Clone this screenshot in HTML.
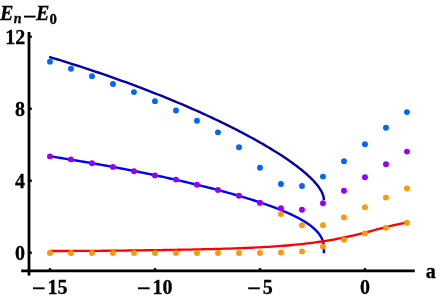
<!DOCTYPE html>
<html><head><meta charset="utf-8"><title>chart</title>
<style>
html,body{margin:0;padding:0;background:#fff;}
body{width:436px;height:298px;overflow:hidden;font-family:"Liberation Serif",serif;}
svg{display:block}
text{font-family:"Liberation Serif",serif;font-weight:bold;fill:#000;stroke:#000;stroke-width:0.3px}
</style></head><body>
<svg width="436" height="298" viewBox="0 0 436 298">
<rect width="436" height="298" fill="#fff"/>
<g stroke="#000" stroke-width="2.8" fill="none">
<path d="M21.2,270.9 H414.8"/>
<path d="M29.0,32 V275.6"/>
</g>
<g stroke="#000" stroke-width="2.5" fill="none">
<path d="M49.95,270.9 V268.15"/>
<path d="M154.95,270.9 V268.15"/>
<path d="M259.95,270.9 V268.15"/>
<path d="M364.95,270.9 V268.15"/>
<path d="M29.0,252.75 H31.75"/>
<path d="M29.0,180.75 H31.75"/>
<path d="M29.0,108.75 H31.75"/>
<path d="M29.0,36.75 H31.75"/>
</g>
<path d="M49.11,56.91 L53.05,58.09 L56.96,59.27 L60.84,60.46 L64.69,61.65 L68.52,62.84 L72.32,64.04 L76.08,65.24 L79.82,66.44 L83.54,67.64 L87.22,68.85 L90.87,70.06 L94.50,71.27 L98.10,72.49 L101.67,73.70 L105.21,74.92 L108.72,76.14 L112.20,77.35 L115.66,78.58 L119.09,79.80 L122.48,81.02 L125.85,82.24 L129.20,83.47 L132.51,84.69 L135.79,85.92 L139.05,87.14 L142.28,88.37 L145.48,89.59 L148.65,90.82 L151.79,92.04 L154.91,93.26 L157.99,94.49 L161.05,95.71 L164.08,96.93 L167.08,98.15 L170.05,99.37 L172.99,100.58 L175.91,101.80 L178.79,103.01 L181.65,104.22 L184.48,105.43 L187.28,106.64 L190.06,107.85 L192.80,109.05 L195.52,110.25 L198.20,111.45 L200.86,112.65 L203.49,113.84 L206.10,115.03 L208.67,116.22 L211.22,117.40 L213.73,118.58 L216.22,119.76 L218.68,120.93 L221.11,122.10 L223.52,123.27 L225.89,124.43 L228.24,125.59 L230.55,126.75 L232.84,127.90 L235.10,129.05 L237.34,130.19 L239.54,131.33 L241.72,132.46 L243.86,133.59 L245.98,134.71 L248.07,135.83 L250.13,136.95 L252.17,138.06 L254.17,139.16 L256.15,140.26 L258.10,141.35 L260.02,142.44 L261.91,143.53 L263.77,144.60 L265.61,145.68 L267.41,146.74 L269.19,147.80 L270.94,148.86 L272.66,149.91 L274.35,150.95 L276.01,151.99 L277.65,153.02 L279.26,154.04 L280.84,155.06 L282.39,156.07 L283.91,157.08 L285.40,158.08 L286.86,159.07 L288.30,160.06 L289.71,161.04 L291.09,162.01 L292.44,162.98 L293.76,163.94 L295.05,164.89 L296.32,165.83 L297.56,166.77 L298.77,167.70 L299.95,168.63 L301.10,169.54 L302.22,170.45 L303.32,171.36 L304.38,172.25 L305.42,173.14 L306.43,174.02 L307.41,174.89 L308.36,175.76 L309.29,176.62 L310.18,177.47 L311.05,178.31 L311.89,179.14 L312.70,179.97 L313.48,180.79 L314.24,181.60 L314.96,182.41 L315.66,183.20 L316.33,183.99 L316.97,184.77 L317.58,185.54 L318.16,186.31 L318.72,187.06 L319.24,187.81 L319.74,188.55 L320.21,189.29 L320.65,190.01 L321.06,190.73 L321.45,191.44 L321.80,192.14 L322.13,192.83 L322.43,193.51 L322.70,194.19 L322.94,194.86 L323.15,195.52 L323.34,196.17 L323.49,196.81 L323.62,197.45 L323.72,198.07 L323.79,198.69 L323.84,199.30 L323.85,199.90" stroke="#0000a6" stroke-width="2.4" fill="none" stroke-linejoin="round"/>
<path d="M49.11,156.21 L53.05,156.81 L56.96,157.41 L60.84,158.02 L64.69,158.63 L68.52,159.24 L72.32,159.85 L76.08,160.47 L79.82,161.09 L83.54,161.71 L87.22,162.34 L90.87,162.97 L94.50,163.60 L98.10,164.23 L101.67,164.86 L105.21,165.50 L108.72,166.14 L112.20,166.78 L115.66,167.42 L119.09,168.06 L122.48,168.71 L125.85,169.35 L129.20,170.00 L132.51,170.65 L135.79,171.30 L139.05,171.95 L142.28,172.60 L145.48,173.25 L148.65,173.90 L151.79,174.55 L154.91,175.21 L157.99,175.86 L161.05,176.51 L164.08,177.17 L167.08,177.82 L170.05,178.48 L172.99,179.13 L175.91,179.79 L178.79,180.44 L181.65,181.09 L184.48,181.75 L187.28,182.40 L190.06,183.06 L192.80,183.71 L195.52,184.36 L198.20,185.01 L200.86,185.67 L203.49,186.32 L206.10,186.97 L208.67,187.62 L211.22,188.27 L213.73,188.92 L216.22,189.57 L218.68,190.22 L221.11,190.86 L223.52,191.51 L225.89,192.16 L228.24,192.80 L230.55,193.45 L232.84,194.09 L235.10,194.74 L237.34,195.38 L239.54,196.02 L241.72,196.66 L243.86,197.30 L245.98,197.94 L248.07,198.58 L250.13,199.22 L252.17,199.86 L254.17,200.50 L256.15,201.13 L258.10,201.77 L260.02,202.41 L261.91,203.04 L263.77,203.68 L265.61,204.31 L267.41,204.95 L269.19,205.58 L270.94,206.21 L272.66,206.85 L274.35,207.48 L276.01,208.11 L277.65,208.75 L279.26,209.38 L280.84,210.01 L282.39,210.64 L283.91,211.28 L285.40,211.91 L286.86,212.54 L288.30,213.18 L289.71,213.81 L291.09,214.45 L292.44,215.08 L293.76,215.72 L295.05,216.36 L296.32,216.99 L297.56,217.63 L298.77,218.27 L299.95,218.91 L301.10,219.55 L302.22,220.20 L303.32,220.84 L304.38,221.49 L305.42,222.14 L306.43,222.79 L307.41,223.44 L308.36,224.09 L309.29,224.75 L310.18,225.40 L311.05,226.06 L311.89,226.73 L312.70,227.39 L313.48,228.06 L314.24,228.73 L314.96,229.40 L315.66,230.08 L316.33,230.76 L316.97,231.44 L317.58,232.13 L318.16,232.82 L318.72,233.52 L319.24,234.22 L319.74,234.92 L320.21,235.63 L320.65,236.34 L321.06,237.05 L321.45,237.77 L321.80,238.50 L322.13,239.23 L322.43,239.97 L322.70,240.71 L322.94,241.46 L323.15,242.21 L323.34,242.97 L323.49,243.74 L323.62,244.51 L323.72,245.29 L323.79,246.07 L323.84,246.87 L323.85,247.67 L323.85,253.20" stroke="#0000f5" stroke-width="2.4" fill="none" stroke-linejoin="round"/>
<path d="M49.95,251.01 L52.95,251.01 L55.95,251.01 L58.95,251.01 L61.95,251.01 L64.95,251.00 L67.95,250.99 L70.95,250.98 L73.95,250.97 L76.95,250.95 L79.95,250.94 L82.95,250.92 L85.95,250.90 L88.95,250.88 L91.95,250.86 L94.95,250.83 L97.95,250.81 L100.95,250.78 L103.95,250.76 L106.95,250.73 L109.95,250.70 L112.95,250.67 L115.95,250.63 L118.95,250.60 L121.95,250.57 L124.95,250.53 L127.95,250.50 L130.95,250.46 L133.95,250.42 L136.95,250.39 L139.95,250.35 L142.95,250.31 L145.95,250.27 L148.95,250.22 L151.95,250.18 L154.95,250.14 L157.95,250.09 L160.95,250.05 L163.95,250.00 L166.95,249.95 L169.95,249.91 L172.95,249.86 L175.95,249.80 L178.95,249.75 L181.95,249.70 L184.95,249.64 L187.95,249.58 L190.95,249.53 L193.95,249.46 L196.95,249.40 L199.95,249.34 L202.95,249.27 L205.95,249.20 L208.95,249.13 L211.95,249.05 L214.95,248.98 L217.95,248.89 L220.95,248.81 L223.95,248.72 L226.95,248.63 L229.95,248.53 L232.95,248.43 L235.95,248.33 L238.95,248.22 L241.95,248.11 L244.95,247.98 L247.95,247.86 L250.95,247.73 L253.95,247.59 L256.95,247.44 L259.95,247.29 L262.95,247.13 L265.95,246.96 L268.95,246.78 L271.95,246.59 L274.95,246.39 L277.95,246.18 L280.95,245.96 L283.95,245.73 L286.95,245.48 L289.95,245.23 L292.95,244.95 L295.95,244.67 L298.95,244.37 L301.95,244.05 L304.95,243.71 L307.95,243.36 L310.95,242.99 L313.95,242.60 L316.95,242.19 L319.95,241.76 L322.95,241.31 L325.95,240.83 L328.95,240.34 L331.95,239.82 L334.95,239.28 L337.95,238.71 L340.95,238.12 L343.95,237.50 L346.95,236.87 L349.95,236.21 L352.95,235.52 L355.95,234.82 L358.95,234.09 L361.95,233.35 L364.95,232.59 L367.95,231.81 L370.95,231.03 L373.95,230.24 L376.95,229.44 L379.95,228.65 L382.95,227.87 L385.95,227.09 L388.95,226.34 L391.95,225.62 L394.95,224.92 L397.95,224.27 L400.95,223.67 L403.95,223.14 L406.95,222.67" stroke="#ff0000" stroke-width="2.3" fill="none" stroke-linejoin="round"/>
<g fill="#ff9900">
<circle cx="49.95" cy="252.95" r="2.95"/>
<circle cx="70.95" cy="252.95" r="2.95"/>
<circle cx="91.95" cy="252.95" r="2.95"/>
<circle cx="112.95" cy="252.95" r="2.95"/>
<circle cx="133.95" cy="252.95" r="2.95"/>
<circle cx="154.95" cy="252.95" r="2.95"/>
<circle cx="175.95" cy="252.95" r="2.95"/>
<circle cx="196.95" cy="252.95" r="2.95"/>
<circle cx="217.95" cy="252.95" r="2.95"/>
<circle cx="238.95" cy="252.95" r="2.95"/>
<circle cx="259.95" cy="252.95" r="2.95"/>
<circle cx="280.95" cy="252.50" r="2.95"/>
<circle cx="301.95" cy="251.40" r="2.95"/>
<circle cx="322.95" cy="246.60" r="2.95"/>
<circle cx="343.95" cy="239.70" r="2.95"/>
<circle cx="364.95" cy="233.40" r="2.95"/>
<circle cx="385.95" cy="227.80" r="2.95"/>
<circle cx="406.95" cy="222.70" r="2.95"/>
<circle cx="259.95" cy="203.40" r="2.95"/>
<circle cx="280.95" cy="214.10" r="2.95"/>
<circle cx="301.95" cy="225.20" r="2.95"/>
<circle cx="322.95" cy="225.30" r="2.95"/>
<circle cx="343.95" cy="217.40" r="2.95"/>
<circle cx="364.95" cy="207.30" r="2.95"/>
<circle cx="385.95" cy="197.60" r="2.95"/>
<circle cx="406.95" cy="188.50" r="2.95"/>
</g><g fill="#9600fa">
<circle cx="49.95" cy="156.40" r="2.95"/>
<circle cx="70.95" cy="159.40" r="2.95"/>
<circle cx="91.95" cy="163.20" r="2.95"/>
<circle cx="112.95" cy="166.90" r="2.95"/>
<circle cx="133.95" cy="171.20" r="2.95"/>
<circle cx="154.95" cy="175.40" r="2.95"/>
<circle cx="175.95" cy="179.60" r="2.95"/>
<circle cx="196.95" cy="184.70" r="2.95"/>
<circle cx="217.95" cy="190.00" r="2.95"/>
<circle cx="238.95" cy="195.80" r="2.95"/>
<circle cx="259.95" cy="202.60" r="2.95"/>
<circle cx="280.95" cy="208.20" r="2.95"/>
<circle cx="301.95" cy="209.70" r="2.95"/>
<circle cx="322.95" cy="203.20" r="2.95"/>
<circle cx="343.95" cy="190.80" r="2.95"/>
<circle cx="364.95" cy="177.20" r="2.95"/>
<circle cx="385.95" cy="164.20" r="2.95"/>
<circle cx="406.95" cy="151.60" r="2.95"/>
</g><g fill="#0066ff">
<circle cx="49.95" cy="61.65" r="2.95"/>
<circle cx="70.95" cy="68.70" r="2.95"/>
<circle cx="91.95" cy="76.25" r="2.95"/>
<circle cx="112.95" cy="84.05" r="2.95"/>
<circle cx="133.95" cy="92.10" r="2.95"/>
<circle cx="154.95" cy="101.15" r="2.95"/>
<circle cx="175.95" cy="110.50" r="2.95"/>
<circle cx="196.95" cy="120.80" r="2.95"/>
<circle cx="217.95" cy="132.35" r="2.95"/>
<circle cx="238.95" cy="147.25" r="2.95"/>
<circle cx="259.95" cy="167.70" r="2.95"/>
<circle cx="280.95" cy="184.05" r="2.95"/>
<circle cx="301.95" cy="185.95" r="2.95"/>
<circle cx="322.95" cy="176.60" r="2.95"/>
<circle cx="343.95" cy="161.20" r="2.95"/>
<circle cx="364.95" cy="144.20" r="2.95"/>
<circle cx="385.95" cy="127.80" r="2.95"/>
<circle cx="406.95" cy="112.10" r="2.95"/>
</g>
<g font-size="20" style="filter:grayscale(1)">
<text x="5.3" y="43.9">12</text>
<text x="15.1" y="116.0">8</text>
<text x="15.1" y="188.0">4</text>
<text x="15.1" y="260.2">0</text>
<rect x="33" y="287.35" width="11.6" height="1.9" fill="#000"/><text x="47.5" y="293.6">15</text>
<rect x="138" y="287.35" width="11.6" height="1.9" fill="#000"/><text x="152.5" y="293.6">10</text>
<rect x="248.2" y="287.35" width="11.6" height="1.9" fill="#000"/><text x="262.7" y="293.6">5</text>
<text x="360" y="293.6">0</text>
<text x="425.7" y="278">a</text>
<text x="0.1" y="20" font-style="italic" font-size="20">E</text>
<text x="13.7" y="23.3" font-style="italic" font-size="14">n</text>
<rect x="24" y="15.650000000000002" width="11.6" height="1.9" fill="#000"/>
<text x="36" y="20" font-style="italic" font-size="20">E</text>
<text x="49.5" y="23.8" font-size="14.8">0</text>
</g>
</svg></body></html>
